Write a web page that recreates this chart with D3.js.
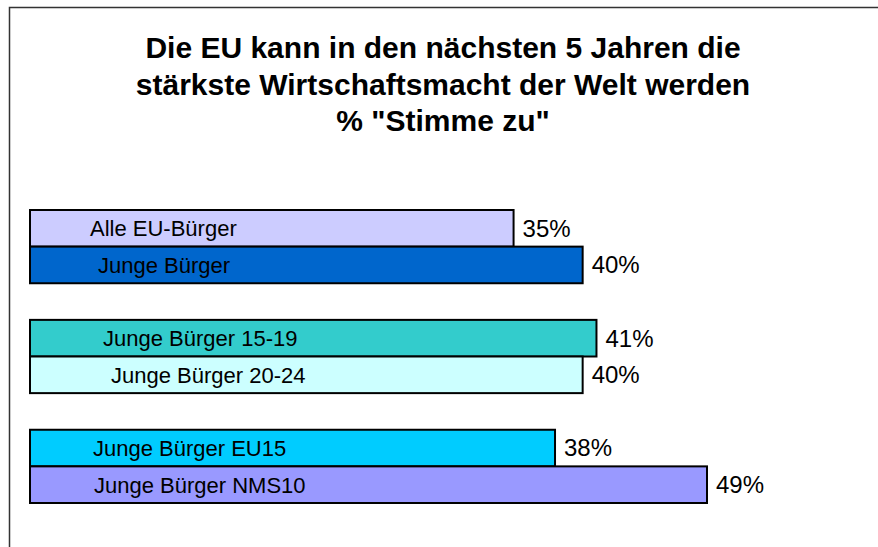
<!DOCTYPE html>
<html><head><meta charset="utf-8">
<script src="https://cdn.jsdelivr.net/npm/d3@7"></script>
<style>html,body{margin:0;padding:0;background:#fff}svg{display:block}</style>
</head><body>
<svg id="c" width="878" height="547"></svg>
<script>
const titleLines = ["Die EU kann in den nächsten 5 Jahren die", "stärkste Wirtschaftsmacht der Welt werden", "% \"Stimme zu\""];
const groups = ["g1", "g2", "g3"];
const categories = ["Alle EU-Bürger", "Junge Bürger", "Junge Bürger 15-19", "Junge Bürger 20-24", "Junge Bürger EU15", "Junge Bürger NMS10"];
const groupOf = ["g1", "g1", "g2", "g2", "g3", "g3"];
const values = [35, 40, 41, 40, 38, 49];
const valueLabels = ["35%", "40%", "41%", "40%", "38%", "49%"];
const colors = ["#CCCCFF", "#0066CC", "#33CCCC", "#CCFFFF", "#00CCFF", "#9999FF"];
const labelStart = [90, 98, 103, 111, 93, 94];

const svg = d3.select("#c");
const font = "'Liberation Sans', Arial, sans-serif";

// frame
svg.append("rect").attr("x", 9.5).attr("y", 7.5).attr("width", 900).attr("height", 600)
  .attr("fill", "none").attr("stroke", "#333").attr("stroke-width", 1.5);

// title
svg.append("g").selectAll("text").data(titleLines).join("text")
  .attr("x", 443).attr("y", (d, i) => 58 + i * 36.5)
  .attr("text-anchor", "middle").attr("font-family", font).attr("font-weight", "bold")
  .attr("font-size", 30).attr("fill", "#000").text(d => d);

const x = d3.scaleLinear().domain([0, 49]).range([30, 707]);
const yG = d3.scaleBand().domain(groups).range([210, 503]).paddingInner(1/3).paddingOuter(0);
const yI = d3.scaleBand().domain([0, 1]).range([0, yG.bandwidth()]);

const idx = d3.range(categories.length);
const inGroup = idx.map(i => groupOf.slice(0, i).filter(g => g === groupOf[i]).length);
const yPos = i => yG(groupOf[i]) + yI(inGroup[i]);

svg.append("g").selectAll("rect").data(idx).join("rect")
  .attr("x", x(0)).attr("y", i => yPos(i))
  .attr("width", i => x(values[i]) - x(0)).attr("height", yI.bandwidth())
  .attr("fill", i => colors[i]).attr("stroke", "#000").attr("stroke-width", 2);

svg.append("g").selectAll("text").data(idx).join("text")
  .attr("x", i => labelStart[i]).attr("y", i => yPos(i) + yI.bandwidth() / 2)
  .attr("dy", "0.36em").attr("font-family", font).attr("font-size", 22).attr("fill", "#000")
  .text(i => categories[i]);

svg.append("g").selectAll("text").data(idx).join("text")
  .attr("x", i => x(values[i]) + 9).attr("y", i => yPos(i) + yI.bandwidth() / 2)
  .attr("dy", "0.35em").attr("font-family", font).attr("font-size", 24).attr("fill", "#000")
  .text(i => valueLabels[i]);
</script>
</body></html>
